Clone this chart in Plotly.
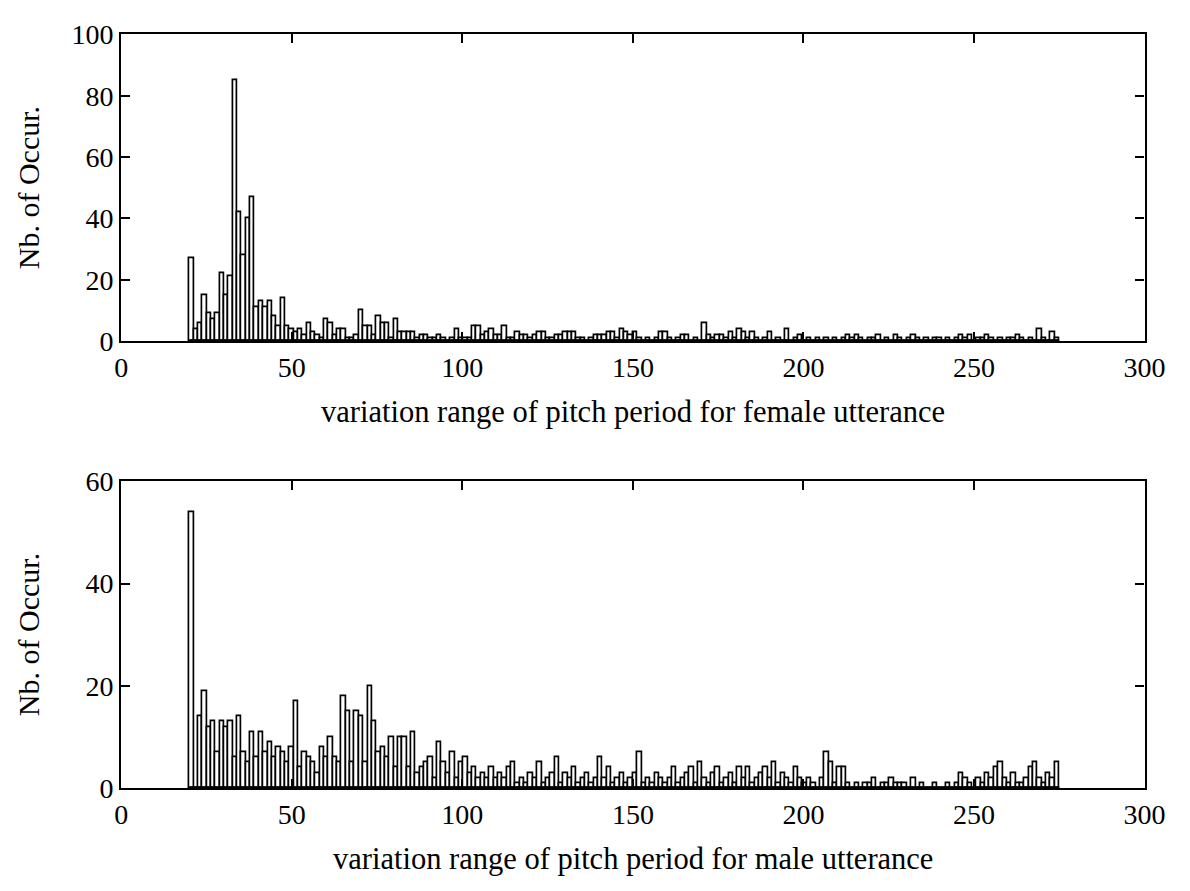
import numpy as np
import plotly.graph_objects as go

# histogram bins: 200 bins starting at 20 with width 1.275
bin_start = 20.0
bin_width = 1.275
n_bins = 200

female_counts = [
    27, 4, 6, 15, 9, 7, 9, 22, 15, 21, 85, 42, 28, 40, 47, 11, 13, 11, 13, 8,
    5, 14, 5, 4, 3, 4, 2, 6,
    3, 2, 1, 7, 6, 2, 4, 4, 1, 1, 2, 10, 5, 5, 2, 8, 6, 6, 1, 7, 3, 3,
    3, 3, 1, 2, 2, 1, 1, 2, 1, 0, 1, 4, 1, 1, 1,
    5, 5, 2, 3, 4, 2, 2, 5, 1, 1, 3, 2, 2, 1, 2, 3, 3, 1, 1, 2,
    2, 3, 3, 3, 1, 1, 0, 1, 2, 2, 2, 3, 3, 1, 4, 3, 2, 3, 1,
    0, 1, 0, 1, 3, 3, 1, 0, 1, 2, 2, 0, 1, 0, 6, 2, 1, 2, 2, 1,
    3, 1, 4, 3, 1, 3, 1, 0, 1, 3, 0, 1, 0, 4, 0, 1, 2, 0, 1,
    0, 1, 0, 1, 0, 1, 0, 1, 2, 1, 2, 1, 0, 1, 1, 2, 0, 1, 0, 2,
    1, 0, 1, 2, 1, 0, 1, 0, 1, 1, 0, 1, 0, 1, 2, 1, 2, 0, 1,
    1, 2, 1, 0, 1, 0, 1, 1, 2, 1, 0, 1, 0, 4, 1, 0, 3, 1,
]

male_counts = [
    54, 0, 14, 19, 12, 13, 7, 13, 12, 13, 6, 14, 7, 5, 11, 6, 11, 7, 9, 6,
    8, 7, 5, 8, 17, 4, 7, 6, 5, 3, 8, 6, 10, 6, 5, 18, 15, 5, 15, 14,
    5, 20, 13, 7, 8, 6, 10, 4, 10, 10, 4, 11, 3, 4, 5, 6, 2, 9, 5, 3,
    7, 2, 5, 6, 3, 4, 2, 3, 2, 4, 2, 3, 2, 4, 5, 1, 2, 1, 3, 2,
    5, 1, 2, 3, 6, 1, 3, 2, 4, 1, 2, 3, 1, 2, 6, 2, 4, 1, 2, 3,
    1, 2, 3, 7, 1, 2, 1, 3, 2, 1, 2, 4, 1, 2, 3, 4, 1, 5, 2, 1,
    3, 4, 1, 2, 3, 1, 4, 2, 4, 1, 2, 3, 4, 2, 5, 1, 3, 2, 1, 4,
    2, 1, 2, 1, 0, 2, 7, 5, 1, 4, 4, 1, 0, 1, 0, 1, 1, 2, 0, 1,
    1, 2, 1, 1, 1, 0, 2, 0, 1, 0, 0, 1, 0, 0, 1, 0, 1, 3, 2, 1,
    0, 2, 1, 3, 2, 4, 5, 2, 1, 3, 1, 1, 2, 4, 5, 2, 1, 3, 2, 5,
]

x_ticks = [0, 50, 100, 150, 200, 250, 300]
female_y_ticks = [0, 20, 40, 60, 80, 100]
male_y_ticks = [0, 20, 40, 60]

x_title_f = "variation range of pitch period for female utterance"
x_title_m = "variation range of pitch period for male utterance"
y_title = "Nb. of Occur."

centers = bin_start + bin_width * (np.arange(n_bins) + 0.5)

W, H = 1190, 891
FONT = "Liberation Serif"

fig = go.Figure()
bar_style = dict(marker=dict(color="white", line=dict(color="black", width=1.7)),
                 width=bin_width, showlegend=False)
fig.add_trace(go.Bar(x=centers, y=female_counts, xaxis="x", yaxis="y", **bar_style))
fig.add_trace(go.Bar(x=centers, y=male_counts, xaxis="x2", yaxis="y2", **bar_style))

x0, x1 = 117 / W, 1165 / W
top_dom = [1 - 338 / H, 1 - 20 / H]
bot_dom = [1 - 801 / H, 1 - 483 / H]

axis_common = dict(showline=True, linecolor="black", linewidth=2.2, mirror="ticks",
                   ticks="inside", ticklen=9, tickwidth=2, tickcolor="black",
                   showgrid=False, zeroline=False,
                   tickfont=dict(family=FONT, size=28, color="black"))

fig.update_layout(
    width=W, height=H,
    margin=dict(l=0, r=0, t=0, b=0),
    paper_bgcolor="white", plot_bgcolor="white",
    bargap=0,
    xaxis=dict(domain=[x0, x1], anchor="y", range=[0, 300], tickvals=x_ticks,
               ticklabeloverflow="allow", **axis_common),
    yaxis=dict(domain=top_dom, anchor="x", range=[0, 100], tickvals=female_y_ticks, **axis_common),
    xaxis2=dict(domain=[x0, x1], anchor="y2", range=[0, 300], tickvals=x_ticks,
                ticklabeloverflow="allow", **axis_common),
    yaxis2=dict(domain=bot_dom, anchor="x2", range=[0, 60], tickvals=male_y_ticks, **axis_common),
)

# heavy baseline under the bars (the dense zero-height bar edges)
for xa, ya in (("x", "y"), ("x2", "y2")):
    fig.add_shape(type="line", xref=xa, yref=ya, x0=bin_start, x1=bin_start + n_bins * bin_width,
                  y0=0, y1=0, line=dict(color="black", width=4))

xc = (x0 + x1) / 2
fig.add_annotation(text=x_title_f, x=xc, y=1 - 411 / H, xref="paper", yref="paper",
                   showarrow=False, font=dict(family=FONT, size=30.5, color="black"),
                   xanchor="center", yanchor="middle")
fig.add_annotation(text=x_title_m, x=xc, y=1 - 874 / H, xref="paper", yref="paper",
                   showarrow=False, font=dict(family=FONT, size=30.5, color="black"),
                   xanchor="center", yanchor="middle")
for dom in (top_dom, bot_dom):
    fig.add_annotation(text=y_title, x=22 / W, y=(dom[0] + dom[1]) / 2, xref="paper", yref="paper",
                       showarrow=False, textangle=-90,
                       font=dict(family=FONT, size=30, color="black"),
                       xanchor="center", yanchor="middle")

fig.write_html("out.html")
